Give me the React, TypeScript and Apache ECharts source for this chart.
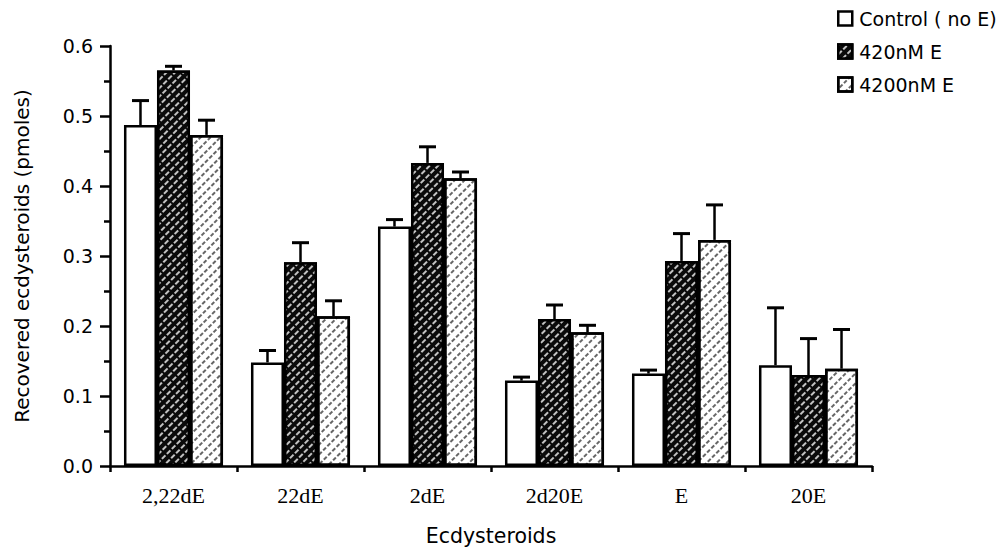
import React, { useEffect, useRef } from "react";
import * as echarts from "echarts";

const categories = ["2,22dE", "22dE", "2dE", "2d20E", "E", "20E"];
const seriesNames = ["Control ( no E)", "420nM E", "4200nM E"];
const control = [0.487, 0.148, 0.342, 0.122, 0.132, 0.144];
const controlErr = [0.035, 0.017, 0.01, 0.005, 0.005, 0.082];
const e420 = [0.565, 0.291, 0.433, 0.21, 0.293, 0.13];
const e420Err = [0.006, 0.028, 0.023, 0.02, 0.039, 0.052];
const e4200 = [0.473, 0.214, 0.411, 0.191, 0.323, 0.139];
const e4200Err = [0.021, 0.022, 0.009, 0.01, 0.05, 0.056];
const yTicks = ["0.0", "0.1", "0.2", "0.3", "0.4", "0.5", "0.6"];

const BAR_FRAC = 0.26;
const SANS = "DejaVu Sans, Liberation Sans, Arial, sans-serif";
const SERIF = "Liberation Serif, Times New Roman, serif";

export default function App() {
  const ref = useRef<HTMLDivElement>(null);
  useEffect(() => {
    document.body.style.margin = "0";
    const chart = echarts.init(ref.current!, null, { renderer: "svg" });
    const values = [control, e420, e4200];
    const errs = [controlErr, e420Err, e4200Err];
    const styles = [
      { color: "#ffffff", borderColor: "#000", borderWidth: 2.5 },
      {
        color: "#0a0a0a",
        borderColor: "#000",
        borderWidth: 2.5,
        decal: {
          symbol: "rect",
          symbolSize: 1,
          color: "rgba(255,255,255,0.75)",
          dashArrayX: [5, 1.5],
          dashArrayY: [1.4, 3.8],
          rotation: -Math.PI / 4,
        },
      },
      {
        color: "#ffffff",
        borderColor: "#000",
        borderWidth: 2.5,
        decal: {
          symbol: "rect",
          symbolSize: 1,
          color: "rgba(0,0,0,0.6)",
          dashArrayX: [3.5, 1.5],
          dashArrayY: [1.2, 4.2],
          rotation: -Math.PI / 4,
        },
      },
    ];
    const barSeries = seriesNames.map((name, i) => ({
      name,
      type: "bar",
      data: values[i],
      barWidth: BAR_FRAC * 100 + "%",
      barGap: "0%",
      itemStyle: styles[i],
      z: 2,
    }));
    const errSeries = seriesNames.map((name, si) => ({
      name: name + " err",
      type: "custom",
      z: 3,
      data: values[si].map((v, i) => [i, v, errs[si][i]]),
      renderItem: (params: any, api: any) => {
        const xi = api.value(0);
        const v = api.value(1);
        const e = api.value(2);
        const bw = api.size([1, 0])[0];
        const off = (si - 1) * bw * BAR_FRAC;
        const base = api.coord([xi, v]);
        const top = api.coord([xi, v + e]);
        const x = base[0] + off;
        return {
          type: "group",
          children: [
            {
              type: "line",
              shape: { x1: x, y1: base[1], x2: x, y2: top[1] },
              style: { stroke: "#000", lineWidth: 2.5 },
            },
            {
              type: "line",
              shape: { x1: x - 8.5, y1: top[1], x2: x + 8.5, y2: top[1] },
              style: { stroke: "#000", lineWidth: 3 },
            },
          ],
        };
      },
    }));
    chart.setOption({
      animation: false,
      backgroundColor: "#ffffff",
      grid: { left: 110, right: 131, top: 46, bottom: 84 },
      legend: {
        data: seriesNames,
        orient: "vertical",
        left: 832,
        top: 4,
        itemWidth: 14,
        itemHeight: 14,
        itemGap: 14,
        icon: "rect",
        itemStyle: { borderWidth: 2.5, borderColor: "#000" },
        textStyle: { fontFamily: SANS, fontSize: 19, lineHeight: 19, color: "#000", padding: [0, 0, 0, 2] },
      },
      xAxis: {
        type: "category",
        data: categories,
        name: "Ecdysteroids",
        nameLocation: "middle",
        nameGap: 59,
        nameTextStyle: { fontFamily: SANS, fontSize: 20.5, color: "#000" },
        axisLine: { lineStyle: { color: "#000", width: 2.5 } },
        axisTick: { show: true, length: 6, lineStyle: { color: "#000", width: 2.5 } },
        axisLabel: {
          margin: 18,
          fontFamily: SERIF,
          fontSize: 22,
          color: "#000",
        },
      },
      yAxis: {
        type: "value",
        min: 0,
        max: 0.6,
        interval: 0.1,
        name: "Recovered ecdysteroids (pmoles)",
        nameLocation: "middle",
        nameGap: 78,
        nameTextStyle: { fontFamily: SANS, fontSize: 20, color: "#000" },
        axisLine: { show: true, lineStyle: { color: "#000", width: 2.5 } },
        axisTick: { show: true, length: 10, lineStyle: { color: "#000", width: 2.5 } },
        minorTick: { show: true, splitNumber: 2, length: 6, lineStyle: { color: "#000", width: 2.5 } },
        splitLine: { show: false },
        axisLabel: {
          margin: 17,
          fontFamily: SANS,
          fontSize: 19,
          color: "#000",
          formatter: (v: number) => yTicks[Math.round(v * 10)] ?? v.toFixed(1),
        },
      },
      series: [...barSeries, ...errSeries],
    });
    return () => chart.dispose();
  }, []);
  return <div ref={ref} style={{ width: 1003, height: 551 }} />;
}
